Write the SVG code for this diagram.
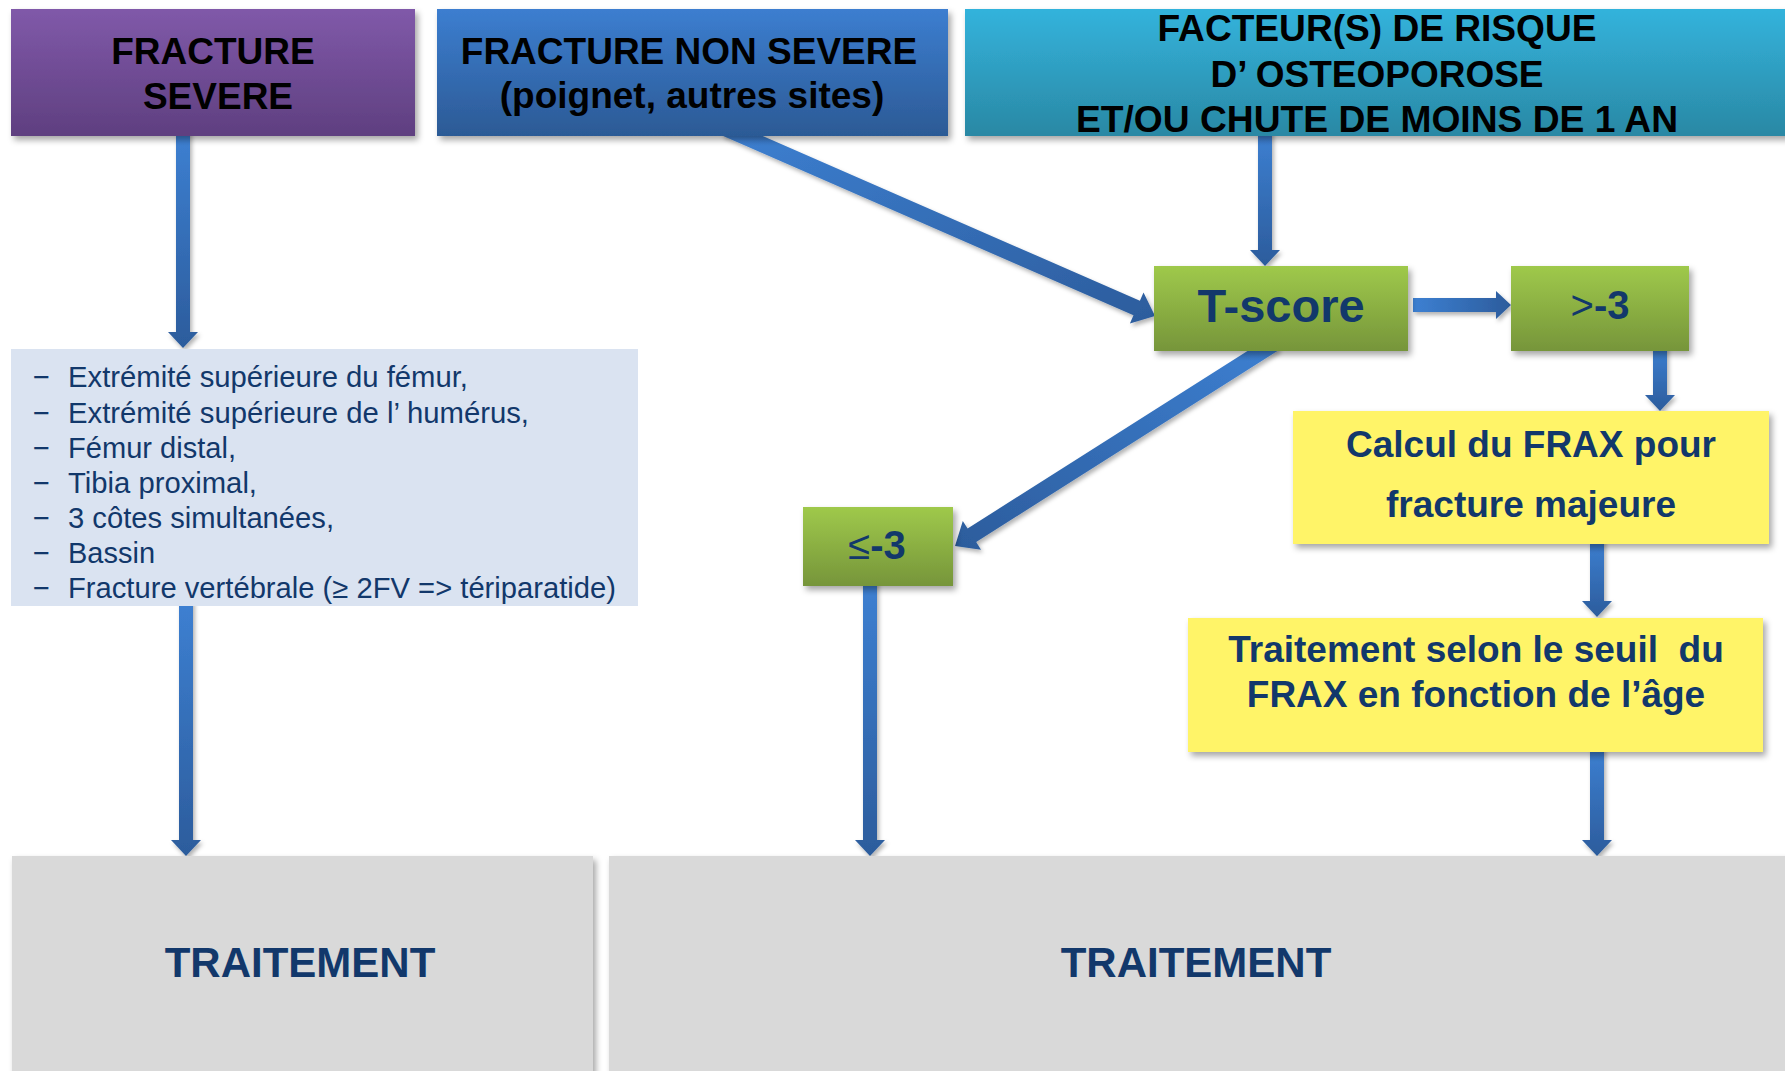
<svg xmlns="http://www.w3.org/2000/svg" width="1785" height="1071" viewBox="0 0 1785 1071">
<style>
.hd{font-family:"Liberation Sans",Arial,sans-serif;font-weight:bold;fill:#000;text-anchor:middle}
.nv{font-family:"Liberation Sans",Arial,sans-serif;font-weight:bold;fill:#12386b;text-anchor:middle}
.ls{font-family:"Liberation Sans",Arial,sans-serif;font-size:29px;fill:#12386b}
.arr{stroke:none}
</style>
<defs>
<filter id="sh" x="-10%" y="-10%" width="125%" height="130%">
<feDropShadow dx="3" dy="4" stdDeviation="3" flood-color="#000" flood-opacity="0.35"/>
</filter>
<filter id="sha" x="-20%" y="-20%" width="150%" height="150%">
<feDropShadow dx="2" dy="3" stdDeviation="2" flood-color="#000" flood-opacity="0.3"/>
</filter>
<linearGradient id="gPur" x1="0" y1="0" x2="0" y2="1"><stop offset="0" stop-color="#8059a9"/><stop offset="1" stop-color="#5f3f80"/></linearGradient>
<linearGradient id="gBlu" x1="0" y1="0" x2="0" y2="1"><stop offset="0" stop-color="#3c7ed0"/><stop offset="1" stop-color="#2c5a95"/></linearGradient>
<linearGradient id="gTea" x1="0" y1="0" x2="0" y2="1"><stop offset="0" stop-color="#33b3dc"/><stop offset="1" stop-color="#2a88a4"/></linearGradient>
<linearGradient id="gGrn" x1="0" y1="0" x2="0" y2="1"><stop offset="0" stop-color="#9fc94b"/><stop offset="1" stop-color="#76953a"/></linearGradient>
<linearGradient id="gv" x1="0" y1="0" x2="0" y2="1"><stop offset="0" stop-color="#3d80d2"/><stop offset="1" stop-color="#2c5c9c"/></linearGradient>
<linearGradient id="gh" x1="0" y1="0" x2="1" y2="0"><stop offset="0" stop-color="#3d80d2"/><stop offset="1" stop-color="#2c5c9c"/></linearGradient>
<linearGradient id="gd1" x1="0" y1="0" x2="1" y2="1"><stop offset="0" stop-color="#3d80d2"/><stop offset="1" stop-color="#2c5c9c"/></linearGradient>
<linearGradient id="gd2" x1="1" y1="0" x2="0" y2="1"><stop offset="0" stop-color="#3d80d2"/><stop offset="1" stop-color="#2c5c9c"/></linearGradient>
</defs>
<rect width="1785" height="1071" fill="#fff"/>

<g id="connectors" filter="url(#sha)">
<polygon class="arr" fill="url(#gv)" points="176,130 190,130 190,332 198,332 183,348 168,332 176,332"/>
<polygon class="arr" fill="url(#gv)" points="179,600 193,600 193,840 201,840 186,856 171,840 179,840"/>
<polygon class="arr" fill="url(#gv)" points="1258,130 1272,130 1272,250 1280,250 1265,266 1250,250 1258,250"/>
<polygon class="arr" fill="url(#gh)" points="1413,298 1496,298 1496,291 1511,305 1496,319 1496,312 1413,312"/>
<polygon class="arr" fill="url(#gv)" points="1653,345 1667,345 1667,395 1675,395 1660,411 1645,395 1653,395"/>
<polygon class="arr" fill="url(#gv)" points="1590,538 1604,538 1604,601 1612,601 1597,617 1582,601 1590,601"/>
<polygon class="arr" fill="url(#gv)" points="1590,746 1604,746 1604,840 1612,840 1597,856 1582,840 1590,840"/>
<polygon class="arr" fill="url(#gv)" points="863,580 877,580 877,840 885,840 870,856 855,840 863,840"/>
<polygon class="arr" fill="url(#gd1)" points="727.9,120.7 1139.9,300.7 1143.5,292.4 1155,316 1129.9,323.6 1133.5,315.3 721.5,135.3"/>
<polygon class="arr" fill="url(#gd2)" points="1270.7,336.2 967.6,528.5 962.8,520.9 955,546 981,549.7 976.2,542 1279.3,349.8"/>
</g>

<g id="n-severe">
<rect x="11" y="9" width="404" height="127" fill="url(#gPur)" filter="url(#sh)"/>
<text class="hd" x="213" y="64" font-size="37">FRACTURE</text>
<text class="hd" x="218" y="109" font-size="37">SEVERE</text>
</g>

<g id="n-nonsevere">
<rect x="437" y="9" width="511" height="127" fill="url(#gBlu)" filter="url(#sh)"/>
<text class="hd" x="689" y="64" font-size="37">FRACTURE NON SEVERE</text>
<text class="hd" x="692" y="108" font-size="37">(poignet, autres sites)</text>
</g>

<g id="n-risque">
<rect x="965" y="9" width="830" height="127" fill="url(#gTea)" filter="url(#sh)"/>
<text class="hd" x="1377" y="41" font-size="37" textLength="439" lengthAdjust="spacingAndGlyphs">FACTEUR(S) DE RISQUE</text>
<text class="hd" x="1377" y="87" font-size="37">D’ OSTEOPOROSE</text>
<text class="hd" x="1377" y="132" font-size="37" textLength="602" lengthAdjust="spacingAndGlyphs">ET/OU CHUTE DE MOINS DE 1 AN</text>
</g>

<g id="n-liste">
<rect x="11" y="349" width="627" height="257" fill="#dae3f1"/>
<g class="ls">
<text x="33" y="387">−</text><text x="68" y="387" textLength="400" lengthAdjust="spacingAndGlyphs">Extrémité supérieure du fémur,</text>
<text x="33" y="423">−</text><text x="68" y="423" textLength="461" lengthAdjust="spacingAndGlyphs">Extrémité supérieure de l’ humérus,</text>
<text x="33" y="458">−</text><text x="68" y="458" textLength="168" lengthAdjust="spacingAndGlyphs">Fémur distal,</text>
<text x="33" y="493">−</text><text x="68" y="493" textLength="189" lengthAdjust="spacingAndGlyphs">Tibia proximal,</text>
<text x="33" y="528">−</text><text x="68" y="528" textLength="266" lengthAdjust="spacingAndGlyphs">3 côtes simultanées,</text>
<text x="33" y="563">−</text><text x="68" y="563" textLength="87" lengthAdjust="spacingAndGlyphs">Bassin</text>
<text x="33" y="598">−</text><text x="68" y="598" textLength="548" lengthAdjust="spacingAndGlyphs">Fracture vertébrale (≥ 2FV =&gt; tériparatide)</text>
</g>
</g>

<g id="n-tscore">
<rect x="1154" y="266" width="254" height="85" fill="url(#gGrn)" filter="url(#sh)"/>
<text class="nv" x="1281" y="322" font-size="47">T-score</text>
</g>

<g id="n-sup3">
<rect x="1511" y="266" width="178" height="85" fill="url(#gGrn)" filter="url(#sh)"/>
<text class="nv" x="1600" y="319" font-size="40"><tspan font-weight="normal">&gt;</tspan>-3</text>
</g>

<g id="n-inf3">
<rect x="803" y="507" width="150" height="79" fill="url(#gGrn)" filter="url(#sh)"/>
<text class="nv" x="877" y="559" font-size="40"><tspan font-weight="normal">≤</tspan>-3</text>
</g>

<g id="n-frax">
<rect x="1293" y="411" width="476" height="133" fill="#fff467" filter="url(#sh)"/>
<text class="nv" x="1531" y="457" font-size="37">Calcul du FRAX pour</text>
<text class="nv" x="1531" y="517" font-size="37">fracture majeure</text>
</g>

<g id="n-seuil">
<rect x="1188" y="618" width="575" height="134" fill="#fff467" filter="url(#sh)"/>
<text class="nv" x="1476" y="662" font-size="37" xml:space="preserve">Traitement selon le seuil  du</text>
<text class="nv" x="1476" y="707" font-size="37">FRAX en fonction de l’âge</text>
</g>

<g id="n-trait1">
<rect x="12" y="856" width="581" height="220" fill="#d9d9d9" filter="url(#sh)"/>
<text class="nv" x="300" y="977" font-size="42">TRAITEMENT</text>
</g>

<g id="n-trait2">
<rect x="609" y="856" width="1186" height="220" fill="#d9d9d9" filter="url(#sh)"/>
<text class="nv" x="1196" y="977" font-size="42">TRAITEMENT</text>
</g>
</svg>
